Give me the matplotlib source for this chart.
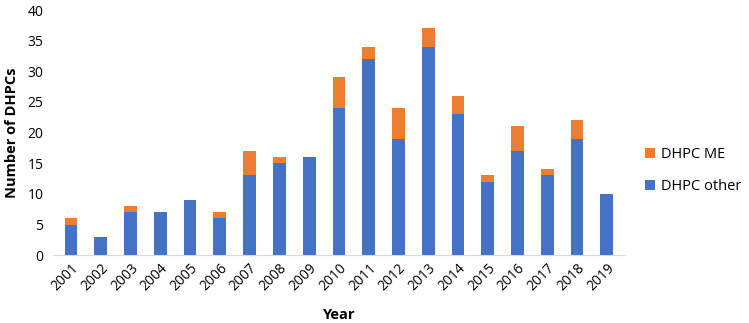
import matplotlib.pyplot as plt
import numpy as np

plt.rcParams['font.family'] = ['Open Sans', 'DejaVu Sans']

years = [str(y) for y in range(2001, 2020)]
dhpc_other = [5, 3, 7, 7, 9, 6, 13, 15, 16, 24, 32, 19, 34, 23, 12, 17, 13, 19, 10]
dhpc_me = [1, 0, 1, 0, 0, 1, 4, 1, 0, 5, 2, 5, 3, 3, 1, 4, 1, 3, 0]

fig = plt.figure(figsize=(7.49, 3.23), dpi=100)
ax = fig.add_axes([0.071, 0.21, 0.763, 0.759])

x = np.arange(len(years))
b1 = ax.bar(x, dhpc_other, width=0.43, color='#4472C4', label='DHPC other')
b2 = ax.bar(x, dhpc_me, width=0.43, bottom=dhpc_other, color='#ED7D31', label='DHPC ME')

ax.set_xlim(-0.6, len(years) - 0.4)
ax.set_ylim(0, 40)
ax.set_yticks(range(0, 41, 5))
ax.set_xticks(x)
ax.set_xticklabels(years, rotation=45, ha='right', rotation_mode='anchor')
ax.tick_params(axis='both', length=0, labelsize=10, colors='#000000')
ax.tick_params(axis='x', pad=4)
ax.tick_params(axis='y', pad=7)

for s in ['top', 'right', 'left']:
    ax.spines[s].set_visible(False)
ax.spines['bottom'].set_color('#D9D9D9')

ax.set_ylabel('Number of DHPCs', fontsize=10.5, fontweight='bold', labelpad=6)
ax.set_xlabel('Year', fontsize=10.5, fontweight='bold', labelpad=10)

ax.legend([b2, b1], ['DHPC ME', 'DHPC other'], loc='center left',
          bbox_to_anchor=(1.012, 0.345), frameon=False, fontsize=10.5,
          handlelength=0.7, handleheight=0.7, handletextpad=0.4, labelspacing=1.2)

fig.savefig('out.png', dpi=100)
